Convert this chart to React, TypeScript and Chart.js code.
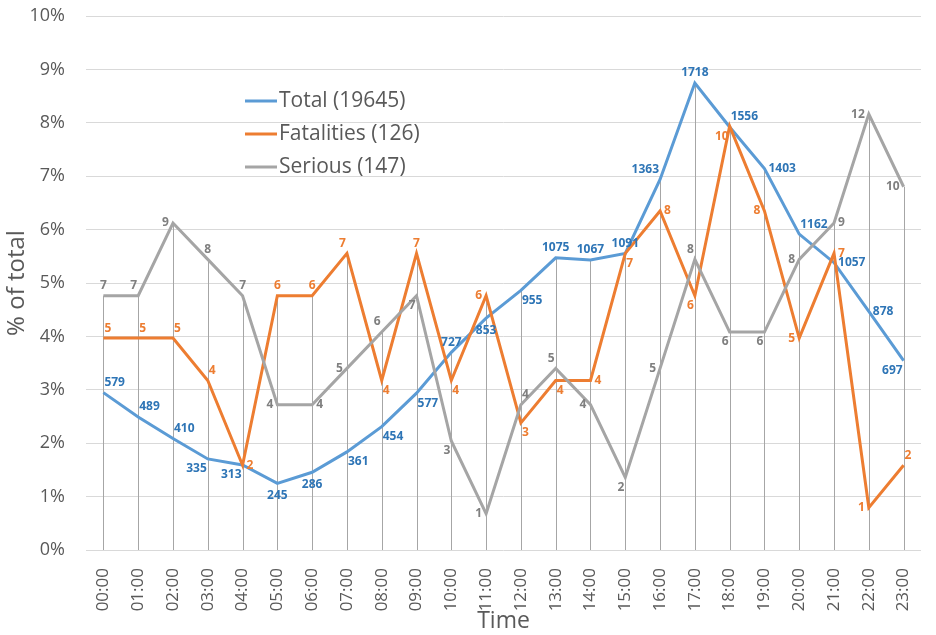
import { useEffect, useRef } from "react"
import { Chart, registerables } from "chart.js"

Chart.register(...registerables)

const hours = [
  "00:00", "01:00", "02:00", "03:00", "04:00", "05:00", "06:00", "07:00",
  "08:00", "09:00", "10:00", "11:00", "12:00", "13:00", "14:00", "15:00",
  "16:00", "17:00", "18:00", "19:00", "20:00", "21:00", "22:00", "23:00",
]

// accident counts per hour (shown as data labels)
const totalCounts = [579, 489, 410, 335, 313, 245, 286, 361, 454, 577, 727, 853, 955, 1075, 1067, 1091, 1363, 1718, 1556, 1403, 1162, 1057, 878, 697]
const fatalCounts = [5, 5, 5, 4, 2, 6, 6, 7, 4, 7, 4, 6, 3, 4, 4, 7, 8, 6, 10, 8, 5, 7, 1, 2]
const seriousCounts = [7, 7, 9, 8, 7, 4, 4, 5, 6, 7, 3, 1, 4, 5, 4, 2, 5, 8, 6, 6, 8, 9, 12, 10]

const totalAll = 19645
const fatalAll = 126
const seriousAll = 147

// where each data label sits relative to its point
const totalLabelSide = ["tr", "tr", "tr", "bl", "bl", "b", "b", "br", "br", "br", "t", "b", "br", "t", "t", "t", "tl", "t", "tr", "r", "tr", "r", "r", "bl"]
const fatalLabelSide = ["tr", "tr", "tr", "tr", "r", "t", "t", "tl", "br", "t", "br", "l", "br", "br", "r", "br", "r", "bl", "bl", "l", "l", "r", "l", "tr"]
const seriousLabelSide = ["t", "tl", "l", "t", "t", "l", "r", "l", "tl", "bl", "bl", "l", "tr", "tl", "l", "bl", "l", "tl", "bl", "bl", "l", "r", "l", "l"]

const FONT = "'Open Sans', 'Noto Sans', sans-serif"
const TEXT = "#595959"

const series = [
  { name: "Total", counts: totalCounts, all: totalAll, sides: totalLabelSide, line: "#5b9bd5", label: "#2e75b6" },
  { name: "Fatalities", counts: fatalCounts, all: fatalAll, sides: fatalLabelSide, line: "#ed7d31", label: "#ed7d31" },
  { name: "Serious", counts: seriousCounts, all: seriousAll, sides: seriousLabelSide, line: "#a5a5a5", label: "#7f7f7f" },
]

const offsets: Record<string, [number, number, CanvasTextAlign]> = {
  t: [0, -10, "center"],
  b: [0, 12, "center"],
  l: [-4, 0, "right"],
  r: [4, 0, "left"],
  tr: [1, -10, "left"],
  tl: [-1, -10, "right"],
  br: [1, 10, "left"],
  bl: [-1, 10, "right"],
}

const dropLines = {
  id: "dropLines",
  beforeDatasetsDraw(chart: Chart) {
    const { ctx } = chart
    const yScale = chart.scales.y
    const xScale = chart.scales.x
    ctx.save()
    ctx.strokeStyle = "#a6a6a6"
    ctx.lineWidth = 1
    hours.forEach((_, i) => {
      let top = 0
      chart.data.datasets.forEach((ds) => {
        top = Math.max(top, ds.data[i] as number)
      })
      const x = Math.round(xScale.getPixelForValue(i)) + 0.5
      ctx.beginPath()
      ctx.moveTo(x, yScale.getPixelForValue(top))
      ctx.lineTo(x, yScale.getPixelForValue(0))
      ctx.stroke()
    })
    ctx.restore()
  },
}

const pointLabels = {
  id: "pointLabels",
  afterDatasetsDraw(chart: Chart) {
    const { ctx } = chart
    ctx.save()
    ctx.font = `bold 12px ${FONT}`
    ctx.textBaseline = "middle"
    series.forEach((s, di) => {
      const meta = chart.getDatasetMeta(di)
      meta.data.forEach((pt, i) => {
        const [dx, dy, align] = offsets[s.sides[i]]
        ctx.fillStyle = s.label
        ctx.textAlign = align
        ctx.fillText(String(s.counts[i]), pt.x + dx, pt.y + dy)
      })
    })
    ctx.restore()
  },
}

const innerLegend = {
  id: "innerLegend",
  afterDraw(chart: Chart) {
    const { ctx } = chart
    ctx.save()
    ctx.font = `21px ${FONT}`
    ctx.textBaseline = "middle"
    ctx.textAlign = "left"
    series.forEach((s, i) => {
      const y = 101 + i * 33
      ctx.strokeStyle = s.line
      ctx.lineWidth = 3
      ctx.beginPath()
      ctx.moveTo(245, y)
      ctx.lineTo(277, y)
      ctx.stroke()
      ctx.fillStyle = TEXT
      ctx.fillText(`${s.name} (${s.all})`, 279, y)
    })
    ctx.restore()
  },
}

export default function App() {
  const canvasRef = useRef<HTMLCanvasElement>(null)
  const chartRef = useRef<Chart | null>(null)

  useEffect(() => {
    if (!canvasRef.current) return
    if (chartRef.current) chartRef.current.destroy()

    chartRef.current = new Chart(canvasRef.current, {
      type: "line",
      data: {
        labels: hours,
        datasets: series.map((s, i) => ({
          label: s.name,
          data: s.counts.map((c) => (c / s.all) * 100),
          borderColor: s.line,
          backgroundColor: s.line,
          borderWidth: 3,
          pointRadius: 0,
          tension: 0,
          order: 3 - i,
        })),
      },
      options: {
        responsive: false,
        animation: false,
        layout: { padding: { top: 16, right: 15, left: 0, bottom: 0 } },
        plugins: {
          legend: { display: false },
          tooltip: { enabled: false },
        },
        scales: {
          x: {
            offset: true,
            grid: { display: false },
            border: { display: false },
            afterFit: (scale) => {
              scale.height = 85
              scale.paddingLeft = 0
              scale.paddingRight = 0
            },
            ticks: {
              minRotation: 90,
              maxRotation: 90,
              autoSkip: false,
              padding: 10,
              color: TEXT,
              font: { family: FONT, size: 17 },
            },
            title: {
              display: true,
              text: "Time",
              color: TEXT,
              padding: 0,
              font: { family: FONT, size: 23 },
            },
          },
          y: {
            min: 0,
            max: 10,
            grid: { color: "#d9d9d9", drawTicks: false },
            border: { display: false },
            afterFit: (scale) => {
              scale.width = 86
              scale.paddingTop = 0
              scale.paddingBottom = 0
            },
            ticks: {
              stepSize: 1,
              padding: 21,
              color: TEXT,
              font: { family: FONT, size: 18 },
              callback: (v) => `${v}%`,
            },
            title: {
              display: true,
              text: "% of total",
              color: TEXT,
              padding: { top: 3, bottom: 0 },
              font: { family: FONT, size: 24 },
            },
          },
        },
      },
      plugins: [dropLines, pointLabels, innerLegend],
    })

    return () => {
      if (chartRef.current) {
        chartRef.current.destroy()
        chartRef.current = null
      }
    }
  }, [])

  return (
    <div style={{ position: "fixed", left: 0, top: 0, width: 936, height: 635, background: "#fff" }}>
      <canvas ref={canvasRef} width={936} height={635} />
    </div>
  )
}
